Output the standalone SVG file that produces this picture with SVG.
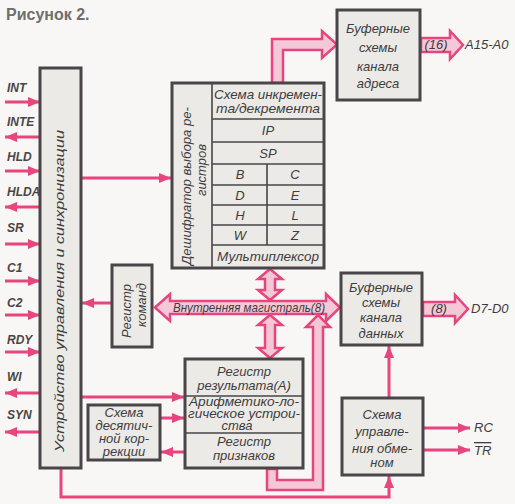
<svg xmlns="http://www.w3.org/2000/svg" width="515" height="504" viewBox="0 0 515 504">
<defs>
<marker id="ah" viewBox="0 0 12 10" refX="12" refY="5" markerWidth="12" markerHeight="10" markerUnits="userSpaceOnUse" orient="auto">
<path d="M0,0 L12,5 L0,10 Z" fill="#e8457f"/>
</marker>
</defs>
<style>
.bg{fill:#f8f7f5}
.box{fill:#ebeae6;stroke:#4a4548;stroke-width:3}
.div{stroke:#4a4548;stroke-width:1.6;fill:none}
.t{font-family:"Liberation Sans","DejaVu Sans",sans-serif;font-style:italic;fill:#403c3e;font-size:13px}
.c{text-anchor:middle}
.pin{font-family:"Liberation Sans","DejaVu Sans",sans-serif;font-style:italic;font-weight:bold;fill:#4a4548;font-size:12px}
.ln{stroke:#e8457f;stroke-width:3;fill:none;marker-end:url(#ah)}
.wide{fill:#f5c8d7;stroke:#e8457f;stroke-width:2.5;stroke-linejoin:miter}
.title{font-family:"Liberation Sans","DejaVu Sans",sans-serif;font-weight:bold;fill:#6e6e6e;font-size:16px}
</style>
<rect class="bg" x="0" y="0" width="515" height="504"/>
<text class="title" x="6" y="20">Рисунок 2.</text>

<g id="connectors">
<line class="ln" x1="5" y1="102" x2="40" y2="102"/>
<line class="ln" x1="40" y1="137" x2="5" y2="137"/>
<line class="ln" x1="5" y1="171" x2="40" y2="171"/>
<line class="ln" x1="40" y1="207" x2="5" y2="207"/>
<line class="ln" x1="5" y1="244" x2="40" y2="244"/>
<line class="ln" x1="5" y1="281" x2="40" y2="281"/>
<line class="ln" x1="5" y1="315" x2="40" y2="315"/>
<line class="ln" x1="5" y1="352" x2="40" y2="352"/>
<line class="ln" x1="40" y1="393" x2="5" y2="393"/>
<line class="ln" x1="40" y1="432" x2="5" y2="432"/>
<line class="ln" x1="81" y1="178" x2="171" y2="178"/>
<line class="ln" x1="112" y1="303" x2="82" y2="303"/>
<line class="ln" x1="81" y1="397" x2="184" y2="397"/>
<line class="ln" x1="160" y1="418" x2="184" y2="418"/>
<line class="ln" x1="185" y1="452" x2="161" y2="452"/>
<path class="ln" d="M61,469 V497 H389 V476"/>
<line class="ln" x1="389" y1="398" x2="389" y2="346"/>
<line class="ln" x1="423" y1="428" x2="470" y2="428"/>
<line class="ln" x1="423" y1="450" x2="470" y2="450"/>
<path class="wide" d="M272,83 L272,39 L322,39 L322,31 L337,44.5 L322,58 L322,50 L283,50 L283,83 Z"/>
<path class="wide" d="M421,38 L450,38 L450,31 L463,45 L450,59 L450,52 L421,52 Z"/>
<text class="t c" x="436" y="49" font-size="10">(16)</text>
<path class="wide" d="M423,302 L455,302 L455,295 L468,309 L455,323 L455,316 L423,316 Z"/>
<text class="t c" x="439" y="313" font-size="10">(8)</text>
<path class="wide" d="M155,307.5 L170,294 L170,301 L326,301 L326,294 L340,307.5 L326,321 L326,314 L170,314 L170,321 Z"/>
<path class="wide" d="M270,269 L282,279 L275,279 L275,290 L282,290 L270,300 L258,290 L265,290 L265,279 L258,279 Z"/>
<path class="wide" d="M270,315 L282,325 L275,325 L275,348 L282,348 L270,358 L258,348 L265,348 L265,325 L258,325 Z"/>
<path class="wide" d="M267,469 L267,490 L323,490 L323,327 L330,327 L318,315 L306,327 L313,327 L313,480 L277,480 L277,469 Z"/>
<text class="t" x="173" y="311.5" font-size="11" textLength="152" lengthAdjust="spacingAndGlyphs">Внутренняя магистраль(8)</text>
</g>

<g id="pins">
<text class="pin" x="7" y="92">INT</text>
<text class="pin" x="7" y="126">INTE</text>
<text class="pin" x="7" y="161">HLD</text>
<text class="pin" x="7" y="196">HLDA</text>
<text class="pin" x="7" y="232">SR</text>
<text class="pin" x="7" y="272">C1</text>
<text class="pin" x="7" y="307">C2</text>
<text class="pin" x="7" y="344">RDY</text>
<text class="pin" x="7" y="381">WI</text>
<text class="pin" x="7" y="419">SYN</text>
</g>

<g id="control">
<rect class="box" x="40" y="68" width="41" height="400"/>
<text class="t c" transform="translate(64,291) rotate(-90)" textLength="322" lengthAdjust="spacingAndGlyphs">Устройство управления и синхронизации</text>
</g>

<g id="decoder">
<rect class="box" x="172" y="83" width="152" height="185"/>
<path class="div" d="M212,83 V268 M212,119 H324 M212,142 H324 M212,164 H324 M212,185 H324 M212,205 H324 M212,225 H324 M212,245 H324 M267,164 V245"/>
<text class="t c" transform="translate(191,186) rotate(-90)" textLength="158" lengthAdjust="spacingAndGlyphs">Дешифратор выбора ре-</text>
<text class="t c" transform="translate(206,170) rotate(-90)">гистров</text>
<text class="t c" x="268" y="99" font-size="12.5" textLength="108" lengthAdjust="spacingAndGlyphs">Схема инкремен-</text>
<text class="t c" x="268" y="113" font-size="12.5" textLength="104" lengthAdjust="spacingAndGlyphs">та/декремента</text>
<text class="t c" x="268" y="135">IP</text>
<text class="t c" x="268" y="158">SP</text>
<text class="t c" x="240" y="179">B</text>
<text class="t c" x="295" y="179">C</text>
<text class="t c" x="240" y="200">D</text>
<text class="t c" x="295" y="200">E</text>
<text class="t c" x="240" y="220">H</text>
<text class="t c" x="295" y="220">L</text>
<text class="t c" x="240" y="240">W</text>
<text class="t c" x="295" y="240">Z</text>
<text class="t c" x="268" y="261" textLength="102" lengthAdjust="spacingAndGlyphs">Мультиплексор</text>
</g>

<g id="addrbuf">
<rect class="box" x="337" y="10" width="83" height="90"/>
<text class="t c" x="378" y="33" font-size="14">Буферные</text>
<text class="t c" x="378" y="52" font-size="14">схемы</text>
<text class="t c" x="378" y="71" font-size="14">канала</text>
<text class="t c" x="378" y="88" font-size="14">адреса</text>
</g>
<text class="t" x="465" y="49" font-size="12">A15-A0</text>

<g id="cmdreg">
<rect class="box" x="112" y="265" width="40" height="82"/>
<text class="t c" transform="translate(131,311) rotate(-90)">Регистр</text>
<text class="t c" transform="translate(146,305) rotate(-90)">команд</text>
</g>

<g id="databuf">
<rect class="box" x="341" y="273" width="81" height="72"/>
<text class="t c" x="381" y="292">Буферные</text>
<text class="t c" x="381" y="307">схемы</text>
<text class="t c" x="381" y="322">канала</text>
<text class="t c" x="381" y="338">данных</text>
</g>
<text class="t" x="471" y="313" font-size="12">D7-D0</text>

<g id="alu">
<rect class="box" x="185" y="359" width="118" height="109"/>
<path class="div" d="M185,396 H303 M185,433 H303"/>
<text class="t c" x="244" y="376" font-size="12.5">Регистр</text>
<text class="t c" x="244" y="390" font-size="12.5">результата(A)</text>
<text class="t c" font-size="11"><tspan x="244" y="406" textLength="110" lengthAdjust="spacingAndGlyphs">Арифметико-ло-</tspan><tspan x="244" y="418" textLength="112" lengthAdjust="spacingAndGlyphs">гическое устрои-</tspan><tspan x="237" y="429.5">ства</tspan></text>
<text class="t c" x="244" y="446" font-size="12.5">Регистр</text>
<text class="t c" x="244" y="460" font-size="12.5">признаков</text>
</g>

<g id="decimal">
<rect class="box" x="88" y="405" width="72" height="55"/>
<text class="t c" font-size="11.5"><tspan x="124" y="417">Схема</tspan><tspan x="124" y="430">десятич-</tspan><tspan x="124" y="443">ной кор-</tspan><tspan x="124" y="456">рекции</tspan></text>
</g>

<g id="exchange">
<rect class="box" x="342" y="398" width="81" height="77"/>
<text class="t c" x="382" y="419">Схема</text>
<text class="t c" x="382" y="436">управле-</text>
<text class="t c" x="382" y="453">ния обме-</text>
<text class="t c" x="382" y="467">ном</text>
</g>
<text class="t" x="474" y="432" font-size="12">RC</text>
<text class="t" x="474" y="455" font-size="12" style="text-decoration:overline">TR</text>
</svg>
